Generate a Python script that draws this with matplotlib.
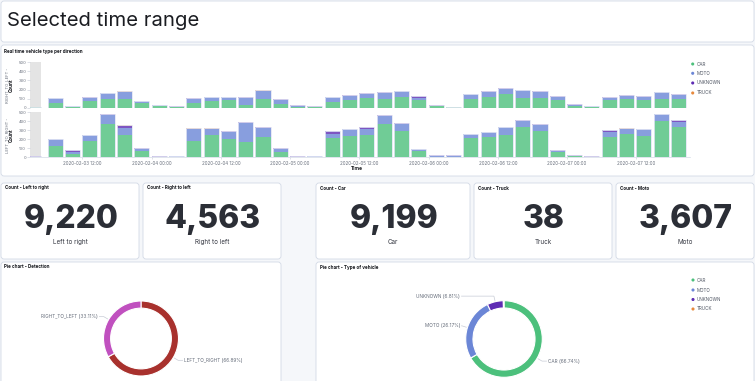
import matplotlib
matplotlib.use("Agg")
import matplotlib.pyplot as plt
import matplotlib.dates as mdates
from matplotlib.patches import FancyBboxPatch
import numpy as np
import pandas as pd

plt.rcParams['font.family'] = ['Inter', 'DejaVu Sans']

# ---------------- data ----------------
vehicle_types = ["CAR", "MOTO", "UNKNOWN", "TRUCK"]
bucket_start = "2020-02-03 03:00"   # 3 hour buckets
n_buckets = 38

# RIGHT_TO_LEFT counts per bucket
rtl_car = [5, 50, 10, 72, 95, 98, 50, 15, 5, 50, 78, 80, 35, 97, 45, 12, 8, 66, 82,
           104, 92, 118, 80, 15, 7, 98, 120, 148, 105, 110, 88, 22, 12, 82, 98, 80, 95, 95]
rtl_moto = [5, 52, 10, 38, 62, 72, 26, 10, 8, 48, 38, 38, 76, 88, 38, 6, 4, 50, 48,
            48, 70, 62, 30, 5, 2, 50, 52, 55, 88, 60, 30, 10, 4, 28, 35, 42, 75, 48]
rtl_unknown = [2, 4, 3, 4, 4, 6, 3, 5, 2, 4, 4, 3, 3, 4, 12, 10, 3, 6, 6,
               10, 6, 8, 14, 10, 3, 6, 8, 10, 6, 10, 10, 9, 3, 7, 6, 6, 4, 10]
rtl_truck = [0, 3, 0, 4, 0, 4, 0, 0, 0, 3, 0, 0, 0, 3, 0, 0, 0, 0, 0,
             0, 3, 0, 0, 0, 0, 0, 0, 0, 0, 0, 0, 0, 0, 0, 0, 0, 4, 0]

# LEFT_TO_RIGHT counts per bucket
ltr_car = [3, 126, 40, 185, 375, 245, 75, 2, 3, 180, 245, 204, 167, 222, 63, 3, 6, 218, 242,
           252, 374, 296, 70, 8, 5, 215, 222, 244, 333, 292, 62, 10, 1, 222, 255, 240, 400, 333]
ltr_moto = [3, 74, 15, 58, 98, 80, 12, 5, 6, 134, 70, 82, 215, 108, 25, 4, 8, 45, 70,
            65, 88, 70, 18, 8, 12, 40, 55, 88, 75, 62, 12, 6, 3, 55, 58, 70, 80, 60]
ltr_unknown = [5, 4, 28, 5, 5, 28, 16, 4, 3, 4, 4, 4, 5, 5, 12, 6, 2, 33, 6,
               20, 4, 18, 8, 6, 5, 4, 4, 8, 3, 20, 7, 6, 7, 26, 4, 4, 5, 18]
ltr_truck = [0, 0, 0, 0, 3, 3, 0, 0, 0, 4, 3, 0, 3, 2, 0, 0, 0, 0, 0,
             0, 0, 0, 0, 0, 0, 0, 0, 0, 0, 0, 0, 0, 0, 0, 5, 0, 0, 0]

metric_titles = ["Count - Left to right", "Count - Right to left",
                 "Count - Car", "Count - Truck", "Count - Moto"]
metric_values = [9220, 4563, 9199, 38, 3607]
metric_labels = ["Left to right", "Right to left", "Car", "Truck", "Moto"]

direction_names = ["LEFT_TO_RIGHT", "RIGHT_TO_LEFT"]
direction_counts = [9220, 4563]
vehicle_counts = [9199, 3607, 939, 38]

# ---------------- style ----------------
W, H = 755, 381
bg = "#f5f7fa"
border = "#d3dae6"
dark = "#1a1c21"
gray_txt = "#69707d"
veh_colors = ["#4cc07c", "#6b86d6", "#5e2bb3", "#e7893d"]
dir_colors = ["#a8312d", "#c050bf"]

fig = plt.figure(figsize=(W / 100, H / 100), dpi=100, facecolor=bg)

# overlay in pixel coords for panels and loose text
ov = fig.add_axes([0, 0, 1, 1], zorder=-1)
ov.set_xlim(0, W)
ov.set_ylim(H, 0)
ov.axis("off")


def px_axes(x0, y0, x1, y1):
    return fig.add_axes([x0 / W, 1 - y1 / H, (x1 - x0) / W, (y1 - y0) / H])


def panel(x0, y0, x1, y1):
    ov.add_patch(FancyBboxPatch((x0, y0), x1 - x0, y1 - y0,
                                boxstyle="round,pad=0,rounding_size=3",
                                fc="white", ec=border, lw=0.6))


panel(1, 1, 754, 42)
panel(1, 45, 754, 176)
metric_boxes = [(1, 139), (143, 281), (316, 470), (474, 612), (616, 754)]
for bx0, bx1 in metric_boxes:
    panel(bx0, 183, bx1, 259)
panel(1, 262, 281, 395)
panel(316, 262, 754, 395)

ov.text(7, 21, "Selected time range", fontsize=14.6, va="center", color=dark)
ov.text(4, 51, "Real time vehicle type per direction", fontsize=3.3,
        weight="bold", va="center", color=dark)

# ---------------- stacked bar chart ----------------
times = pd.date_range(bucket_start, periods=n_buckets, freq="3h")
x = mdates.date2num(times)
slot = 3 / 24
widths = np.full(n_buckets, slot * 0.87)
widths[0] = slot * 0.62

ax_top = px_axes(30.4, 62.3, 690, 107.7)
ax_bot = px_axes(30.4, 112.3, 690, 157.3)

panels_data = [
    (ax_top, [rtl_car, rtl_moto, rtl_unknown, rtl_truck], "RIGHT_TO_LEFT -", 85),
    (ax_bot, [ltr_car, ltr_moto, ltr_unknown, ltr_truck], "LEFT_TO_RIGHT -", 135),
]
for ax, series, ylab, yc in panels_data:
    ax.axvspan(x[0], x[0] + slot * 0.64, color="#e4e4e4", zorder=0, lw=0)
    bottom = np.zeros(n_buckets)
    for vals, col in zip(series, veh_colors):
        vals = np.array(vals, dtype=float)
        ax.bar(x, vals, width=widths, bottom=bottom, align="edge",
               color=col, alpha=0.8, lw=0, zorder=2)
        bottom += vals
    ax.bar(x, bottom, width=widths, align="edge", fill=False,
           ec="#e2e5f4", lw=0.6, zorder=3)
    ax.set_xlim(x[0], x[0] + slot * 38.1)
    ax.set_ylim(0, 500)
    ax.set_yticks([0, 100, 200, 300, 400, 500])
    ax.tick_params(axis="y", labelsize=3, labelcolor=gray_txt, color="#c5cad6",
                   length=2, width=0.4, pad=1)
    for s in ax.spines.values():
        s.set_visible(False)
    ax.set_facecolor("none")
    ov.text(7, yc, ylab, rotation=90, fontsize=3, color=gray_txt,
            ha="center", va="center")
    ov.text(11, yc, "Count", rotation=90, fontsize=3.3, weight="bold",
            color=dark, ha="center", va="center")

ax_top.tick_params(axis="x", length=0, labelbottom=False)
ax_bot.spines["bottom"].set_visible(True)
ax_bot.spines["bottom"].set_color(border)
ax_bot.spines["bottom"].set_linewidth(0.5)
ax_bot.xaxis.set_major_locator(mdates.HourLocator(byhour=[0, 12]))
ax_bot.xaxis.set_major_formatter(mdates.DateFormatter("%Y-%m-%d %H:%M"))
ax_bot.tick_params(axis="x", labelsize=3.2, labelcolor=gray_txt, color="#c5cad6",
                   length=1.5, width=0.4, pad=1.5)
ov.text(357, 169, "Time", fontsize=3.6, weight="bold", color=dark,
        ha="center", va="center")

# legend of the bar chart
leg_y = [64, 73.3, 83, 93]
ov.scatter([692.7] * 4, leg_y, s=5, c=veh_colors, lw=0)
for yy, name in zip(leg_y, vehicle_types):
    ov.text(697, yy, name, fontsize=3.3, color="#535966", va="center")

# ---------------- metric panels ----------------
for (bx0, bx1), t, v, lab in zip(metric_boxes, metric_titles, metric_values, metric_labels):
    ov.text(bx0 + 4, 188, t, fontsize=3.3, weight="bold", color=dark, va="center")
    cx = (bx0 + bx1) / 2
    ov.text(cx + 1, 219.5, f"{v:,}", fontsize=23, weight="heavy", color="#2b2e36",
            ha="center", va="center")
    ov.text(cx, 242, lab, fontsize=4.5, color="#343741", ha="center", va="center")

# ---------------- donut charts ----------------
ov.text(4, 267, "Pie chart - Detection", fontsize=3.3, weight="bold",
        color=dark, va="center")
ov.text(320, 267, "Pie chart - Type of vehicle", fontsize=3.3, weight="bold",
        color=dark, va="center")


def donut(cx, cy, r, values, names, colors):
    ax = px_axes(cx - r, cy - r, cx + r, cy + r)
    wedges, _ = ax.pie(values, colors=colors, startangle=90, counterclock=False,
                       radius=1, wedgeprops=dict(width=0.19, edgecolor="white", linewidth=0.8))
    ax.set_xlim(-1, 1)
    ax.set_ylim(-1, 1)
    ax.axis("off")
    total = sum(values)
    for w, v, name in zip(wedges, values, names):
        pct = v / total * 100
        if pct < 1:
            continue
        th = np.deg2rad((w.theta1 + w.theta2) / 2)
        c, s = np.cos(th), np.sin(th)
        side = 1 if c >= 0 else -1
        ex, ey = 1.15 * c, 1.15 * s
        ax.plot([1.03 * c, ex, side * 1.11], [1.03 * s, ey, ey], color="#c8ccd6",
                lw=0.5, clip_on=False)
        ax.text(side * 1.15, ey, f"{name} ({pct:.2f}%)", fontsize=3.4, color=gray_txt,
                ha="left" if side > 0 else "right", va="center", clip_on=False)


donut(141, 338.5, 37.5, direction_counts, direction_names, dir_colors)
donut(504, 339, 38.3, vehicle_counts, vehicle_types, veh_colors)

leg2_y = [280, 290, 299.5, 309]
ov.scatter([693] * 4, leg2_y, s=5, c=veh_colors, lw=0)
for yy, name in zip(leg2_y, vehicle_types):
    ov.text(697, yy, name, fontsize=3.3, color="#535966", va="center")

fig.savefig("out.png", dpi=100, facecolor=fig.get_facecolor())
